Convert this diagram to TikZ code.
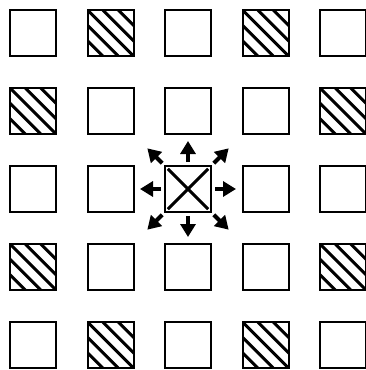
\documentclass[tikz,border=0pt]{standalone}
\usetikzlibrary{arrows.meta, positioning, calc}

\begin{document}
\begin{tikzpicture}[
  node distance=32pt and 31.5pt,
  cell/.style={
    rectangle, draw=black, line width=2pt, outer sep=0pt,
    minimum size=46pt, inner sep=0pt, fill=white
  },
  hatched/.style={
    cell,
    path picture={
      \foreach \k in {-2,...,2}
        \draw[line width=3pt]
          ($(path picture bounding box.north west)+(\k*15.33pt,0)$)
          -- ++(46pt,-46pt);
    }
  },
  arr/.style={-{Triangle[length=13pt,width=15pt]}, line width=4pt, shorten <=4pt}
]
  \useasboundingbox (0,0) rectangle (365pt,-370pt);

  % Row 1
  \node[cell] (r1c1) at (33pt,-33pt) {};
  \node[hatched, right=of r1c1] (r1c2) {};
  \node[cell, right=of r1c2] (r1c3) {};
  \node[hatched, right=of r1c3] (r1c4) {};
  \node[cell, right=of r1c4] (r1c5) {};

  % Row 2
  \node[hatched, below=of r1c1] (r2c1) {};
  \node[cell, right=of r2c1] (r2c2) {};
  \node[cell, right=of r2c2] (r2c3) {};
  \node[cell, right=of r2c3] (r2c4) {};
  \node[hatched, right=of r2c4] (r2c5) {};

  % Row 3 (centre cell)
  \node[cell, below=of r2c1] (r3c1) {};
  \node[cell, right=of r3c1] (r3c2) {};
  \node[cell, right=of r3c2, line width=1.6pt] (centre) {};
  \node[cell, right=of centre] (r3c4) {};
  \node[cell, right=of r3c4] (r3c5) {};

  % Row 4
  \node[hatched, below=of r3c1] (r4c1) {};
  \node[cell, right=of r4c1] (r4c2) {};
  \node[cell, right=of r4c2] (r4c3) {};
  \node[cell, right=of r4c3] (r4c4) {};
  \node[hatched, right=of r4c4] (r4c5) {};

  % Row 5
  \node[cell, below=of r4c1] (r5c1) {};
  \node[hatched, right=of r5c1] (r5c2) {};
  \node[cell, right=of r5c2] (r5c3) {};
  \node[hatched, right=of r5c3] (r5c4) {};
  \node[cell, right=of r5c4] (r5c5) {};

  % Cross in the centre cell
  \draw[line width=3pt, shorten <=4pt, shorten >=4pt]
    (centre.north west) -- (centre.south east);
  \draw[line width=3pt, shorten <=4pt, shorten >=4pt]
    (centre.south west) -- (centre.north east);

  % Moves
  \foreach \ang in {0,45,...,315} {
    \coordinate (tip\ang) at ($(centre.\ang)+(\ang:25pt)$);
    \draw[arr] (centre.\ang) -- (tip\ang);
  }
\end{tikzpicture}
\end{document}
